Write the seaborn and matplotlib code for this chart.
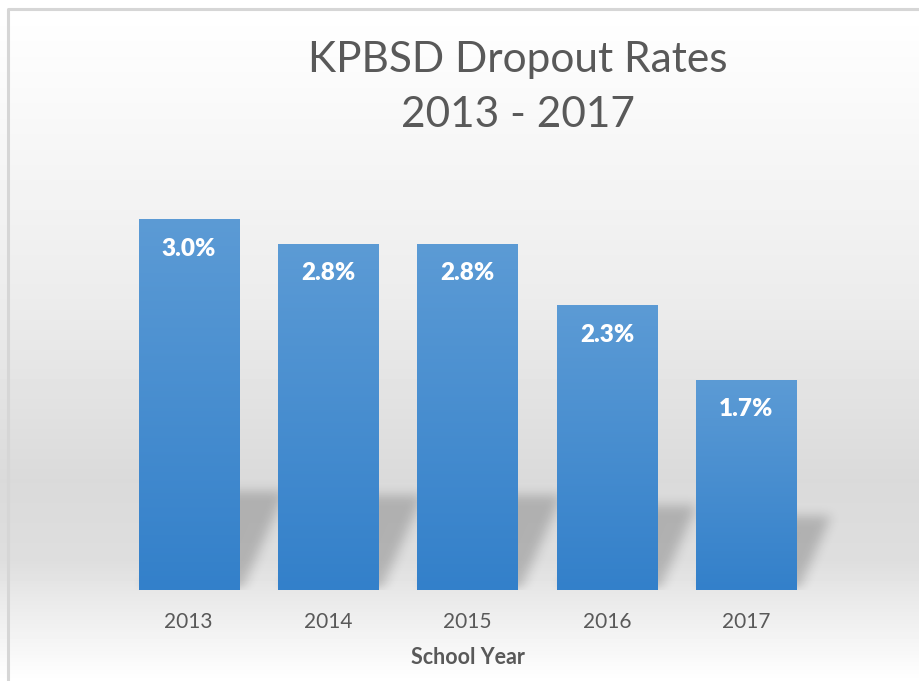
import numpy as np
import pandas as pd
import matplotlib.pyplot as plt
import seaborn as sns
from matplotlib.path import Path
from matplotlib.colors import LinearSegmentedColormap

# data
years = ['2013', '2014', '2015', '2016', '2017']
rates = [3.0, 2.8, 2.8, 2.3, 1.7]
rate_labels = ['3.0%', '2.8%', '2.8%', '2.3%', '1.7%']

df = pd.DataFrame({'School Year': years, 'Rate': rates})

sns.set_theme(style='white')
plt.rcParams['font.family'] = ['Lato', 'DejaVu Sans']
text_gray = '#595959'

W, H = 919, 681
fig = plt.figure(figsize=(W / 100, H / 100), dpi=100)

# background: soft vertical gray gradient + thin frame
bg = fig.add_axes([0, 0, 1, 1], zorder=0)
rows = np.arange(H)
levels = np.interp(rows, [0, 10, 150, 300, 480, 560, 600, 681],
                   [255, 255, 246, 236, 218, 222, 234, 255])
bg.imshow(np.tile(levels[:, None], (1, 2)), cmap='gray', vmin=0, vmax=255,
          aspect='auto', extent=[0, W, H, 0])
bg.plot([8, 8, W], [H, 9, 9], color='#d6d6d6', lw=2.2)
bg.set_xlim(0, W)
bg.set_ylim(H, 0)
bg.axis('off')

# plot area
ax = fig.add_axes([119 / W, 91 / H, 697 / W, 433 / H], zorder=1)
ax.patch.set_alpha(0)
sns.barplot(data=df, x='School Year', y='Rate', width=0.72, color='#4a8fd1',
            saturation=1, linewidth=0, ax=ax, zorder=3)
xmin, xmax, ymax = -0.5, 4.5, 3.5

# blurred perspective shadows behind the bars
sx0, sx1 = -0.5, 4.75
nx, ny = 730, 433
gx = np.linspace(sx0, sx1, nx)
gy = np.linspace(0, ymax, ny)
GX, GY = np.meshgrid(gx, gy)
pts = np.column_stack([GX.ravel(), GY.ravel()])
mask = np.zeros(GX.shape)
for p in ax.patches:
    x0 = p.get_x()
    x1 = x0 + p.get_width()
    h = 0.16 * p.get_height() + 0.32
    dx = 0.42 * h
    poly = Path([(x0, -0.05), (x1, -0.05), (x1 + dx, h), (x0 + dx, h)])
    mask = np.maximum(mask, poly.contains_points(pts).reshape(GX.shape))
k = np.ones(11) / 11
for _ in range(3):
    mask = np.apply_along_axis(lambda r: np.convolve(r, k, mode='same'), 1, mask)
    mask = np.apply_along_axis(lambda c: np.convolve(c, k, mode='same'), 0, mask)
shadow = np.zeros(GX.shape + (4,))
shadow[..., 3] = mask * 0.2
ax.imshow(shadow, extent=[sx0, sx1, 0, ymax], origin='lower', aspect='auto',
          zorder=2, clip_on=False)

# vertical gradient fill inside each bar
blues = LinearSegmentedColormap.from_list('bars', ['#3380ca', '#5c9bd5'])
grad = np.linspace(0, 1, 256)[:, None]
for p in ax.patches:
    x0, w, h = p.get_x(), p.get_width(), p.get_height()
    im = ax.imshow(grad, cmap=blues, extent=[x0, x0 + w, 0, h], origin='lower',
                   aspect='auto', zorder=4)
    im.set_clip_path(p)

for i, (v, lab) in enumerate(zip(rates, rate_labels)):
    ax.text(i, v - 0.24, lab, ha='center', va='center', color='white',
            fontsize=17.5, fontweight='heavy', zorder=5)

ax.set_xlim(xmin, xmax)
ax.set_ylim(0, ymax)
ax.set_yticks([])
ax.set_ylabel('')
sns.despine(ax=ax, left=True, bottom=True)
ax.tick_params(axis='x', length=0, pad=16, labelsize=15, labelcolor=text_gray)
ax.set_xlabel('School Year', fontsize=15.5, fontweight='bold', color=text_gray,
              labelpad=11)

fig.text(518 / W, 1 - 60 / H, 'KPBSD Dropout Rates', ha='center', va='center',
         fontsize=30.5, color=text_gray)
fig.text(518 / W, 1 - 115 / H, '2013 - 2017', ha='center', va='center',
         fontsize=30.5, color=text_gray)

fig.savefig('out.png', dpi=100)
